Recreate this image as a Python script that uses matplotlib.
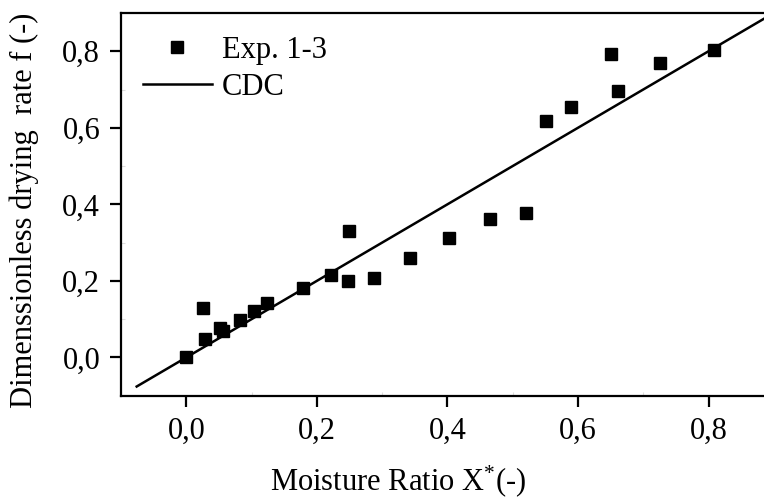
import matplotlib
matplotlib.use("Agg")
import matplotlib.pyplot as plt
from matplotlib.ticker import FixedLocator

plt.rcParams['font.family'] = ['Liberation Serif', 'DejaVu Serif']
plt.rcParams['mathtext.fontset'] = 'custom'
plt.rcParams['mathtext.rm'] = 'Liberation Serif'
plt.rcParams['mathtext.it'] = 'Liberation Serif:italic'

# Experimental data (Exp. 1-3)
exp_x = [0.000, 0.025, 0.028, 0.052, 0.056, 0.082, 0.104, 0.124, 0.179, 0.221,
         0.247, 0.250, 0.288, 0.342, 0.403, 0.466, 0.520, 0.551, 0.589, 0.650,
         0.662, 0.726, 0.808]
exp_f = [0.000, 0.130, 0.047, 0.076, 0.070, 0.099, 0.121, 0.141, 0.181, 0.216,
         0.200, 0.331, 0.208, 0.261, 0.313, 0.361, 0.377, 0.619, 0.654, 0.793,
         0.696, 0.770, 0.802]

# CDC line (f = X*)
cdc_x = [-0.076, 0.9]
cdc_f = [-0.076, 0.9]

xticks = [0.0, 0.2, 0.4, 0.6, 0.8]
xtick_labels = ['0,0', '0,2', '0,4', '0,6', '0,8']
yticks = [0.0, 0.2, 0.4, 0.6, 0.8]
ytick_labels = ['0,0', '0,2', '0,4', '0,6', '0,8']

FS = 22

fig = plt.figure(figsize=(7.64, 4.99), dpi=100)
ax = fig.add_axes([0.1584, 0.207, 0.8416, 0.767])

ax.plot(exp_x, exp_f, linestyle='none', marker='s', markersize=8,
        color='black', label='Exp. 1-3', zorder=3)
ax.plot(cdc_x, cdc_f, color='black', linewidth=1.8, label='CDC', zorder=2)

ax.set_xlim(-0.1, 0.885)
ax.set_ylim(-0.1, 0.9)

ax.set_xticks(xticks)
ax.set_xticklabels(xtick_labels)
ax.set_yticks(yticks)
ax.set_yticklabels(ytick_labels)
ax.xaxis.set_minor_locator(FixedLocator([0.1, 0.3, 0.5, 0.7]))
ax.yaxis.set_minor_locator(FixedLocator([0.1, 0.3, 0.5, 0.7]))

ax.tick_params(axis='both', which='major', direction='out', length=8, width=1.6,
               labelsize=FS, pad=7, colors='black')
ax.tick_params(axis='both', which='minor', direction='in', length=3, width=0.8,
               color='#dddddd')
ax.tick_params(top=False, right=False, which='both')

for side in ['left', 'bottom', 'top']:
    ax.spines[side].set_linewidth(1.6)
ax.spines['right'].set_visible(False)

ax.set_xlabel(r'Moisture Ratio X$^{*}$(-)', fontsize=FS)
ax.set_ylabel('Dimenssionless drying  rate f (-)', fontsize=FS)
ax.xaxis.set_label_coords(0.4316, -0.176)
ax.yaxis.set_label_coords(-0.128, 0.485)

ax.legend(loc='upper left', frameon=False, fontsize=FS,
          handlelength=2.26, handletextpad=0.33, labelspacing=0.25,
          borderpad=0, borderaxespad=0, bbox_to_anchor=(0.034, 0.94))

fig.savefig('out.png', dpi=100)
